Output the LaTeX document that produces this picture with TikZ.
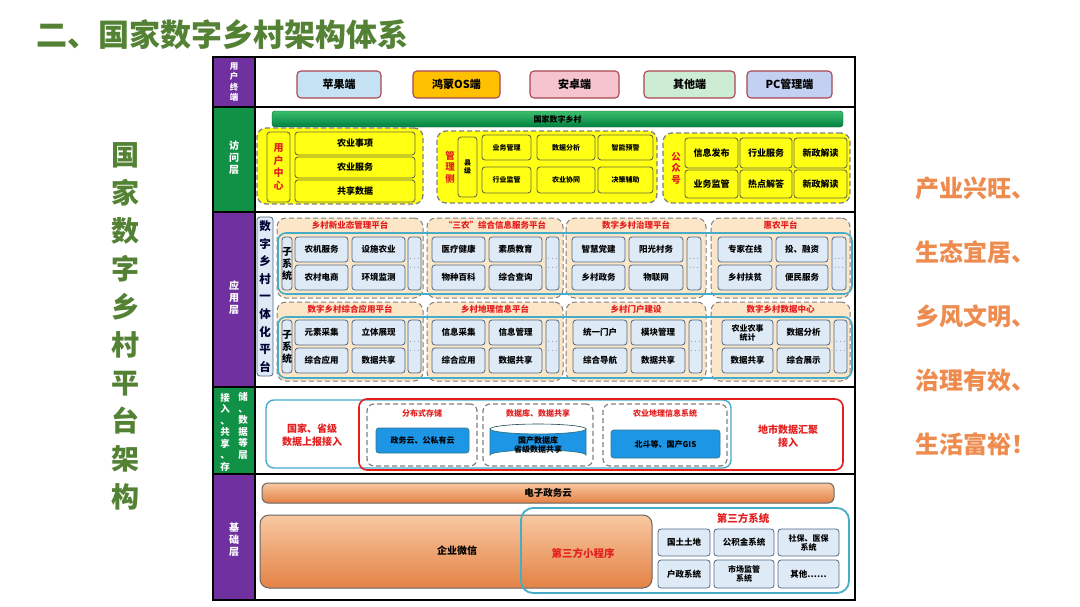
\documentclass[tikz,border=0pt]{standalone}
\usepackage{fontspec}
\setmainfont{Noto Sans CJK SC}
\usepackage{xcolor}
\definecolor{titlegreen}{RGB}{84,130,53}
\definecolor{layerpurple}{RGB}{112,48,160}
\definecolor{layergreen}{RGB}{16,145,70}
\definecolor{termedge}{RGB}{170,70,80}
\definecolor{termblue}{RGB}{196,226,244}
\definecolor{termorange}{RGB}{255,192,0}
\definecolor{termpink}{RGB}{246,196,206}
\definecolor{termgreen}{RGB}{204,236,212}
\definecolor{termlav}{RGB}{196,208,242}
\definecolor{bartop}{RGB}{60,190,110}
\definecolor{barbottom}{RGB}{0,130,65}
\definecolor{yellowfill}{RGB}{255,255,20}
\definecolor{yellowedge}{RGB}{110,110,60}
\definecolor{peachfill}{RGB}{252,230,200}
\definecolor{appfill}{RGB}{222,234,246}
\definecolor{appedge}{RGB}{80,104,136}
\definecolor{blueline}{RGB}{70,172,200}
\definecolor{redword}{RGB}{228,30,30}
\definecolor{cloudblue}{RGB}{30,150,230}
\definecolor{orangetop}{RGB}{248,200,160}
\definecolor{orangebottom}{RGB}{228,130,70}
\definecolor{orangeword}{RGB}{238,140,80}
\newcommand{\bx}[7]{\node[#1,minimum width={(#5)-(#3)},minimum height={(#6)-(#4)}] (#2) at ({((#3)+(#5))/2},{((#4)+(#6))/2}) {#7};}

\begin{document}
\begin{tikzpicture}[x=1pt,y=-1pt,
  lab/.style={text=white,align=center,font=\fontsize{10}{12}\selectfont\bfseries},
  term/.style={draw=termedge,line width=1.1pt,rounded corners=4pt,inner sep=0pt,font=\fontsize{11}{12}\selectfont\bfseries},
  ygrp/.style={draw=gray,dash pattern=on 5pt off 3pt,line width=1.3pt,fill=yellowfill,rounded corners=9pt},
  ybox/.style={draw=yellowedge,line width=0.9pt,fill=yellowfill,rounded corners=3pt,inner sep=0pt,align=center,font=\fontsize{9}{10}\selectfont\bfseries},
  sbox/.style={ybox,font=\fontsize{7}{8}\selectfont\bfseries},
  redv/.style={text=redword,align=center,font=\fontsize{9.5}{11.5}\selectfont\bfseries},
  pgrp/.style={draw=gray,dash pattern=on 5pt off 3pt,line width=1pt,fill=peachfill,rounded corners=9pt},
  ptitle/.style={text=redword,font=\fontsize{8.5}{10}\selectfont\bfseries},
  bgrp/.style={draw=blueline,line width=1.6pt,rounded corners=8pt},
  abox/.style={draw=appedge,line width=0.8pt,fill=appfill,rounded corners=3pt,inner sep=0pt,align=center,font=\fontsize{8.5}{9.5}\selectfont\bfseries},
  dots/.style={abox,font=\fontsize{7}{9}\selectfont},
  dgrp/.style={draw=gray,dash pattern=on 5pt off 3pt,line width=1.2pt,rounded corners=7pt},
  cloud/.style={draw=blueline!70!black,line width=0.8pt,fill=cloudblue,rounded corners=3pt,inner sep=0pt,align=center,font=\fontsize{8}{9.5}\selectfont\bfseries},
  obar/.style={draw=gray!80!black,line width=1pt,top color=orangetop,bottom color=orangebottom,rounded corners=6pt,inner sep=0pt,font=\fontsize{9.5}{11}\selectfont\bfseries}]
  \useasboundingbox[fill=white] (0,0) rectangle (1080,606);

  % title and side texts
  \node[anchor=west,text=titlegreen,font=\fontsize{31}{31}\selectfont\bfseries] (title) at (33,35) {二、国家数字乡村架构体系};
  \node[text=titlegreen,align=center,font=\fontsize{28}{38}\selectfont\bfseries] (vtitle) at (125,326) {国\\家\\数\\字\\乡\\村\\平\\台\\架\\构};
  \foreach \t [count=\i] in {产业兴旺、,生态宜居、,乡风文明、,治理有效、,生活富裕！}
    \node[anchor=west,text=orangeword,font=\fontsize{24}{24}\selectfont\bfseries] (goal\i) at (912,{124+64*\i}) {\t};

  % layer columns
  \fill[layerpurple] (213,57) rectangle (255,107);
  \fill[layergreen] (213,107) rectangle (255,212);
  \fill[layerpurple] (213,212) rectangle (255,387);
  \fill[layergreen] (213,387) rectangle (255,474);
  \fill[layerpurple] (213,474) rectangle (255,600);
  \node[lab,font=\fontsize{8.5}{10.5}\selectfont\bfseries] (lay1) at (234,82) {用\\户\\终\\端};
  \node[lab] (lay2) at (234,158) {访\\问\\层};
  \node[lab] (lay3) at (234,298) {应\\用\\层};
  \node[lab,font=\fontsize{9.5}{11.5}\selectfont\bfseries] (lay4a) at (225,432) {接\\入\\、\\共\\享\\、\\存};
  \node[lab,font=\fontsize{9.5}{11.5}\selectfont\bfseries] (lay4b) at (243,426) {储\\、\\数\\据\\等\\层};
  \node[lab] (lay5) at (234,540) {基\\础\\层};
  \draw[line width=1.3pt] (213,57) rectangle (855,600);
  \foreach \y in {107,212,387,474}
    \draw[line width=1.2pt] (213,\y) -- (855,\y);
  \draw[line width=1.2pt] (255,57) -- (255,600);

  % user terminals
  \bx{term,fill=termblue}{ios}{297}{71}{381}{98}{苹果端}
  \bx{term,fill=termorange}{harmony}{413}{71}{500}{98}{鸿蒙OS端}
  \bx{term,fill=termpink}{android}{530}{71}{619}{98}{安卓端}
  \bx{term,fill=termgreen}{others}{644}{71}{735}{98}{其他端}
  \bx{term,fill=termlav}{pcadmin}{747}{71}{832}{98}{PC管理端}

  % access layer
  \bx{draw=barbottom!70!black,top color=bartop,bottom color=barbottom,rounded corners=3pt,inner sep=0pt,font=\fontsize{8}{9}\selectfont\bfseries}{natbar}{272}{111}{843}{127}{国家数字乡村}
  \bx{ygrp}{ucgrp}{257}{128}{423}{204}{}
  \bx{ybox,text=redword,font=\fontsize{10}{12.5}\selectfont\bfseries}{ucenter}{267}{132}{290}{202}{用\\户\\中\\心}
  \bx{ybox}{uc1}{295}{132}{415}{155}{农业事项}
  \bx{ybox}{uc2}{295}{157}{415}{178}{农业服务}
  \bx{ybox}{uc3}{295}{180}{415}{202}{共享数据}
  \bx{ygrp}{mggrp}{437}{131}{657}{203}{}
  \node[redv] (mgside) at (450,167) {管\\理\\侧};
  \bx{sbox}{county}{458}{137}{477}{197}{县\\级}
  \bx{sbox}{mg1}{482}{135}{531}{160}{业务管理}
  \bx{sbox}{mg2}{537}{135}{595}{160}{数据分析}
  \bx{sbox}{mg3}{598}{135}{653}{160}{智能预警}
  \bx{sbox}{mg4}{482}{167}{531}{193}{行业监管}
  \bx{sbox}{mg5}{537}{167}{595}{193}{农业协同}
  \bx{sbox}{mg6}{598}{167}{653}{193}{决策辅助}
  \bx{ygrp}{pbgrp}{663}{133}{850}{203}{}
  \node[redv] (pbside) at (676,168) {公\\众\\号};
  \bx{ybox}{pb1}{685}{138}{738}{168}{信息发布}
  \bx{ybox}{pb2}{740}{138}{792}{168}{行业服务}
  \bx{ybox}{pb3}{794}{138}{847}{168}{新政解读}
  \bx{ybox}{pb4}{685}{170}{738}{198}{业务监管}
  \bx{ybox}{pb5}{740}{170}{792}{198}{热点解答}
  \bx{ybox}{pb6}{794}{170}{847}{198}{新政解读}

  % application layer
  \bx{abox,font=\fontsize{11.5}{17.6}\selectfont\bfseries,text=black!80!blue}{onepf}{257}{217}{273}{376}{数\\字\\乡\\村\\一\\体\\化\\平\\台}
  \bx{pgrp}{pA}{277}{218}{423}{298}{}
  \bx{pgrp}{pB}{427}{218}{563}{298}{}
  \bx{pgrp}{pC}{566}{218}{706}{298}{}
  \bx{pgrp}{pD}{711}{218}{850}{298}{}
  \bx{pgrp}{pE}{277}{302}{423}{381}{}
  \bx{pgrp}{pF}{427}{302}{563}{381}{}
  \bx{pgrp}{pG}{566}{302}{706}{381}{}
  \bx{pgrp}{pH}{711}{302}{850}{381}{}
  \node[ptitle] at (pA.north) [yshift=-8pt] (tA) {乡村新业态管理平台};
  \node[ptitle] at (pB.north) [yshift=-8pt] (tB) {“三农”综合信息服务平台};
  \node[ptitle] at (pC.north) [yshift=-8pt] (tC) {数字乡村治理平台};
  \node[ptitle] at (pD.north) [yshift=-8pt] (tD) {惠农平台};
  \node[ptitle] at (pE.north) [yshift=-8pt] (tE) {数字乡村综合应用平台};
  \node[ptitle] at (pF.north) [yshift=-8pt] (tF) {乡村地理信息平台};
  \node[ptitle] at (pG.north) [yshift=-8pt] (tG) {乡村门户建设};
  \node[ptitle] at (pH.north) [yshift=-8pt] (tH) {数字乡村数据中心};
  \bx{bgrp}{rowone}{278}{233}{852}{294}{}
  \bx{bgrp}{rowtwo}{278}{317}{852}{378}{}
  \bx{abox,font=\fontsize{10}{12}\selectfont\bfseries}{subA}{282}{237}{292}{290}{子\\系\\统}
  \bx{abox,font=\fontsize{10}{12}\selectfont\bfseries}{subE}{282}{320}{292}{373}{子\\系\\统}
  \bx{abox}{a1}{295}{237}{348}{262}{农机服务}
  \bx{abox}{a2}{352}{237}{405}{262}{设施农业}
  \bx{abox}{a3}{295}{265}{348}{290}{农村电商}
  \bx{abox}{a4}{352}{265}{405}{290}{环境监测}
  \bx{abox}{b1}{432}{237}{485}{262}{医疗健康}
  \bx{abox}{b2}{489}{237}{542}{262}{素质教育}
  \bx{abox}{b3}{432}{265}{485}{290}{物种百科}
  \bx{abox}{b4}{489}{265}{542}{290}{综合查询}
  \bx{abox}{c1}{572}{237}{625}{262}{智慧党建}
  \bx{abox}{c2}{629}{237}{683}{262}{阳光村务}
  \bx{abox}{c3}{572}{265}{625}{290}{乡村政务}
  \bx{abox}{c4}{629}{265}{683}{290}{物联网}
  \bx{abox}{d1}{718}{237}{772}{262}{专家在线}
  \bx{abox}{d2}{776}{237}{828}{262}{投、融资}
  \bx{abox}{d3}{718}{265}{772}{290}{乡村扶贫}
  \bx{abox}{d4}{776}{265}{828}{290}{便民服务}
  \bx{abox}{e1}{295}{320}{348}{345}{元素采集}
  \bx{abox}{e2}{352}{320}{405}{345}{立体展现}
  \bx{abox}{e3}{295}{348}{348}{373}{综合应用}
  \bx{abox}{e4}{352}{348}{405}{373}{数据共享}
  \bx{abox}{f1}{432}{320}{485}{345}{信息采集}
  \bx{abox}{f2}{489}{320}{542}{345}{信息管理}
  \bx{abox}{f3}{432}{348}{485}{373}{综合应用}
  \bx{abox}{f4}{489}{348}{542}{373}{数据共享}
  \bx{abox}{g1}{573}{320}{627}{345}{统一门户}
  \bx{abox}{g2}{631}{320}{685}{345}{模块管理}
  \bx{abox}{g3}{573}{348}{627}{373}{综合导航}
  \bx{abox}{g4}{631}{348}{685}{373}{数据共享}
  \bx{abox,font=\fontsize{8}{9}\selectfont\bfseries}{h1}{722}{320}{773}{345}{农业农事\\统计}
  \bx{abox}{h2}{777}{320}{830}{345}{数据分析}
  \bx{abox}{h3}{722}{348}{773}{373}{数据共享}
  \bx{abox}{h4}{777}{348}{830}{373}{综合展示}
  \foreach \n/\xa/\xb in {A/408/421,B/546/559,C/687/701,D/832/846}
    {\bx{dots}{dots\n}{\xa}{237}{\xb}{290}{$\cdots$\\$\cdots$}}
  \foreach \n/\xa/\xb in {E/408/421,F/546/559,G/689/702,H/834/847}
    {\bx{dots}{dots\n}{\xa}{320}{\xb}{373}{$\cdots$\\$\cdots$}}

  % access, sharing and storage layer
  \bx{bgrp,line width=1.4pt}{upframe}{266}{400}{731}{468}{}
  \bx{bgrp,draw=redword,line width=1.6pt}{cityframe}{359}{399}{843}{470}{}
  \node[text=redword,align=center,font=\fontsize{10}{13}\selectfont\bfseries] (upload) at (312,435) {国家、省级\\数据上报接入};
  \node[text=redword,align=center,font=\fontsize{10}{13}\selectfont\bfseries] (cityin) at (788,436) {地市数据汇聚\\接入};
  \bx{dgrp}{store}{367}{404}{477}{466}{}
  \bx{dgrp}{dbshare}{483}{404}{593}{466}{}
  \bx{dgrp}{gis}{603}{404}{727}{466}{}
  \node[ptitle,font=\fontsize{8}{9}\selectfont\bfseries] at (store.north) [yshift=-10pt] (tstore) {分布式存储};
  \node[ptitle,font=\fontsize{8}{9}\selectfont\bfseries] at (dbshare.north) [yshift=-10pt] (tdb) {数据库、数据共享};
  \node[ptitle,font=\fontsize{8}{9}\selectfont\bfseries] at (gis.north) [yshift=-10pt] (tgis) {农业地理信息系统};
  \bx{cloud}{govcloud}{376}{428}{469}{453}{政务云、公私有云}
  \draw[draw=blueline!70!black,line width=0.8pt,fill=cloudblue] (490,429) -- (490,455) arc[start angle=180,end angle=360,x radius=48,y radius=5] -- (586,429) arc[start angle=0,end angle=180,x radius=48,y radius=5] -- cycle;
  \draw[blueline!40!black,line width=0.6pt] (490,429) arc[start angle=180,end angle=360,x radius=48,y radius=5];
  \node[align=center,font=\fontsize{8}{9.5}\selectfont\bfseries] (dbcyl) at (538,445) {国产数据库\\省级数据共享};
  \bx{cloud}{beidou}{611}{430}{720}{458}{北斗等、国产GIS}

  % base layer
  \bx{obar}{egov}{262}{483}{834}{503}{电子政务云}
  \bx{obar,rounded corners=9pt}{wecom}{260}{515}{652}{588}{}
  \node[font=\fontsize{10}{11}\selectfont\bfseries] (wecomtxt) at (457,551) {企业微信};
  \bx{bgrp,line width=1.8pt,rounded corners=12pt}{third}{521}{508}{849}{593}{}
  \node[text=redword,font=\fontsize{10.5}{12}\selectfont\bfseries] (miniapp) at (583,553) {第三方小程序};
  \node[text=redword,font=\fontsize{10.5}{12}\selectfont\bfseries] (thirdsys) at (743,518) {第三方系统};
  \bx{abox}{s1}{658}{529}{710}{556}{国土土地}
  \bx{abox}{s2}{714}{529}{774}{556}{公积金系统}
  \bx{abox,font=\fontsize{8}{9}\selectfont\bfseries}{s3}{778}{529}{839}{556}{社保、医保\\系统}
  \bx{abox}{s4}{658}{560}{710}{588}{户政系统}
  \bx{abox,font=\fontsize{8}{9}\selectfont\bfseries}{s5}{714}{560}{774}{588}{市场监管\\系统}
  \bx{abox}{s6}{778}{560}{839}{588}{其他……}
\end{tikzpicture}
\end{document}
